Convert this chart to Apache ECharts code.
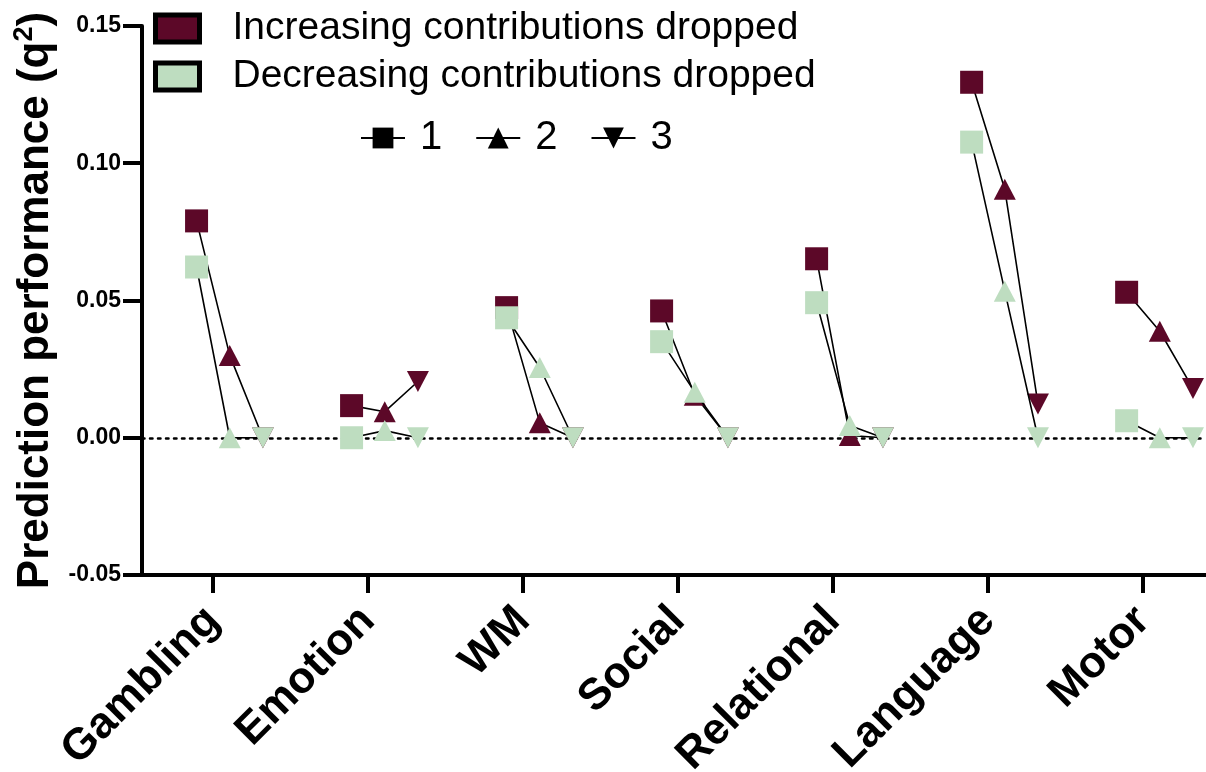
<!DOCTYPE html>
<html>
<head>
<meta charset="utf-8">
<script src="https://cdn.jsdelivr.net/npm/echarts@6/dist/echarts.min.js"></script>
<style>html,body{margin:0;padding:0;background:#fff}#c{width:1206px;height:772px}</style>
</head>
<body>
<div id="c"></div>
<script>
// ---- data ----
const categories = ['Gambling', 'Emotion', 'WM', 'Social', 'Relational', 'Language', 'Motor'];
const stepNames = ['1', '2', '3'];
// values for steps 1, 2, 3 within each category
const increasingDropped = [
  [0.079, 0.030, 0.000],
  [0.0117, 0.0095, 0.0205],
  [0.0474, 0.0055, 0.000],
  [0.0462, 0.0155, 0.000],
  [0.0652, 0.0008, 0.000],
  [0.1295, 0.0905, 0.0123],
  [0.0530, 0.0388, 0.0179]
];
const decreasingDropped = [
  [0.0622, 0.000, 0.000],
  [0.000, 0.0026, 0.000],
  [0.0437, 0.0256, 0.000],
  [0.0350, 0.0166, 0.000],
  [0.0492, 0.0045, 0.000],
  [0.1077, 0.0534, 0.000],
  [0.0062, 0.000, 0.000]
];
const yTicks = [-0.05, 0, 0.05, 0.10, 0.15];

// ---- styles ----
const MAROON = '#5C0828';
const GREEN = '#BEDDC0';
const stepOffsets = [-0.106, 0.108, 0.322];
const DOWN_TRI = 'path://M0,0L20,0L10,19Z';
const stepSymbols = ['rect', 'triangle', DOWN_TRI];
const stepSizes = [[23, 23], [22, 21], [22, 21]];
const FONT = '"Liberation Sans", Arial, Helvetica, sans-serif';

function buildData(values) {
  const out = [];
  values.forEach((row, ci) => {
    row.forEach((v, k) => {
      out.push({ value: [ci + stepOffsets[k], v], symbol: stepSymbols[k], symbolSize: stepSizes[k] });
    });
    out.push({ value: [ci + 0.5, null], symbol: 'none' });
  });
  return out;
}

const chart = echarts.init(document.getElementById('c'), null, { renderer: 'canvas' });
chart.setOption({
  animation: false,
  backgroundColor: '#fff',
  grid: { left: 142, right: 0, top: 26, bottom: 197, containLabel: false, outerBoundsMode: 'none' },
  xAxis: {
    type: 'value',
    min: -0.458, max: 6.406,
    splitLine: { show: false },
    axisLine: { show: true, onZero: false, lineStyle: { color: '#000', width: 4 } },
    axisTick: { show: true, customValues: categories.map((c, i) => i), length: 18, lineStyle: { color: '#000', width: 4 } },
    axisLabel: {
      show: true, customValues: categories.map((c, i) => i),
      formatter: v => categories[Math.round(v)] || '',
      rotate: 45, margin: 39,
      color: '#000', fontSize: 44, fontWeight: 'bold', fontFamily: FONT
    }
  },
  yAxis: {
    type: 'value',
    min: -0.05, max: 0.15, interval: 0.05,
    splitLine: { show: false },
    axisLine: { show: true, onZero: false, lineStyle: { color: '#000', width: 4 } },
    axisTick: { show: true, length: 19, lineStyle: { color: '#000', width: 4 } },
    axisLabel: {
      color: '#000', fontSize: 23, fontWeight: 'bold', fontFamily: FONT, margin: 21,
      formatter: v => {
        const t = yTicks.find(x => Math.abs(x - v) < 1e-9);
        return (t === undefined ? v : t).toFixed(2);
      }
    },
    name: '{a|Prediction performance (q}{s|2}{a|)}',
    nameLocation: 'middle',
    nameRotate: 90,
    nameGap: 74,
    nameTextStyle: {
      color: '#000', fontFamily: FONT, fontWeight: 'bold',
      rich: {
        a: { fontSize: 44, fontWeight: 'bold', fontFamily: FONT, color: '#000', lineHeight: 50 },
        s: { fontSize: 27, fontWeight: 'bold', fontFamily: FONT, color: '#000', verticalAlign: 'top', lineHeight: 32 }
      }
    }
  },
  legend: [
    {
      orient: 'vertical', left: 153, top: 9, padding: 0,
      itemWidth: 44, itemHeight: 27, itemGap: 9,
      selectedMode: false,
      textStyle: { fontSize: 39, color: '#000', fontFamily: FONT, padding: [0, 0, 0, 28], lineHeight: 36 },
      data: [
        { name: 'Increasing contributions dropped', icon: 'rect', itemStyle: { color: MAROON, borderColor: '#000', borderWidth: 5 } },
        { name: 'Decreasing contributions dropped', icon: 'rect', itemStyle: { color: GREEN, borderColor: '#000', borderWidth: 5 } }
      ]
    },
    {
      orient: 'horizontal', left: 360, top: 118, padding: 0,
      itemWidth: 44, itemHeight: 26, itemGap: 33,
      selectedMode: false,
      textStyle: { fontSize: 40, color: '#000', fontFamily: FONT, padding: [0, 0, 0, 10], lineHeight: 38 },
      data: stepNames
    }
  ],
  series: [
    {
      name: 'Increasing contributions dropped',
      type: 'line',
      data: buildData(increasingDropped),
      connectNulls: false,
      itemStyle: { color: MAROON },
      lineStyle: { color: '#000', width: 1.6 },
      z: 3,
      markLine: {
        silent: true, symbol: 'none', z: 1,
        label: { show: false },
        lineStyle: { color: '#000', width: 2.5, type: [2.5, 5.5], cap: 'round' },
        data: [{ yAxis: 0 }]
      }
    },
    {
      name: 'Decreasing contributions dropped',
      type: 'line',
      data: buildData(decreasingDropped),
      connectNulls: false,
      itemStyle: { color: GREEN },
      lineStyle: { color: '#000', width: 1.6 },
      z: 4
    },
    ...stepNames.map((n, k) => ({
      name: n,
      type: 'line',
      data: [],
      symbol: stepSymbols[k],
      symbolSize: 22,
      itemStyle: { color: '#000' },
      lineStyle: { color: '#000', width: 2 }
    }))
  ]
});
</script>
</body>
</html>
